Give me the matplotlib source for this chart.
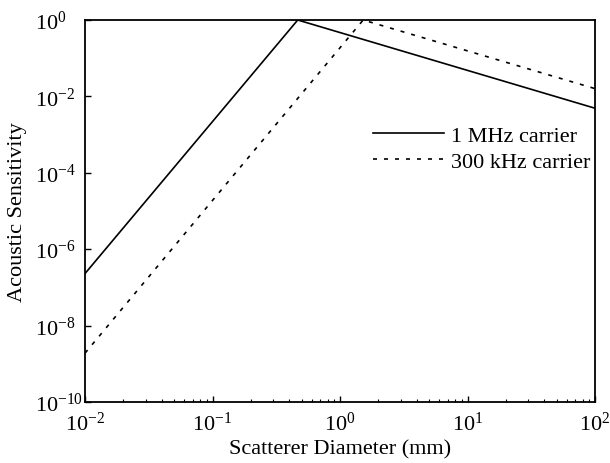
import matplotlib
matplotlib.use("Agg")
import matplotlib.pyplot as plt
import numpy as np

plt.rcParams['font.family'] = ['Liberation Serif', 'DejaVu Serif']
plt.rcParams['mathtext.fontset'] = 'stix'

# Data
diam_1mhz = [0.01, 0.466, 100]
sens_1mhz = [2.3e-7, 1.0, 4.9e-3]
diam_300k = [0.01, 1.52, 100]
sens_300k = [1.9e-9, 1.0, 1.6e-2]
labels = ["1 MHz carrier", "300 kHz carrier"]

fig = plt.figure(figsize=(6.1, 4.64), dpi=100)
ax = fig.add_axes([85/610, 1-403/464, 510/610, 382/464])

ax.loglog(diam_1mhz, sens_1mhz, color='black', lw=1.2, label=labels[0])
ax.loglog(diam_300k, sens_300k, color='black', lw=1.2, ls=(0, (2.4, 4.2)), label=labels[1])

ax.set_xlim(1e-2, 1e2)
ax.set_ylim(1e-10, 1e0)
ax.set_xticks([1e-2, 1e-1, 1e0, 1e1, 1e2])
ax.set_yticks([1e-10, 1e-8, 1e-6, 1e-4, 1e-2, 1e0])
ax.yaxis.set_minor_locator(matplotlib.ticker.NullLocator())
ax.tick_params(which='both', direction='in', top=False, right=False, labelsize=16)
ax.tick_params(which='major', length=4, width=1)
ax.tick_params(which='minor', length=2.2, width=0.8)
ax.tick_params(axis='x', which='major', pad=7)
ax.tick_params(axis='y', which='major', pad=36)
for lab in ax.get_yticklabels():
    lab.set_horizontalalignment('left')
for s in ax.spines.values():
    s.set_linewidth(1.3)

ax.set_xlabel("Scatterer Diameter (mm)", fontsize=16, labelpad=3)
ax.set_ylabel("Acoustic Sensitivity", fontsize=16, labelpad=2)
ax.yaxis.set_label_coords(-58/510, 0.5)

leg = ax.legend(loc='upper right', bbox_to_anchor=(1.0 + 4/510, 0.747), frameon=False,
                fontsize=16, handlelength=3.2, handletextpad=0.3, borderaxespad=0.0,
                labelspacing=0.24)

fig.savefig("out.png", dpi=100)
